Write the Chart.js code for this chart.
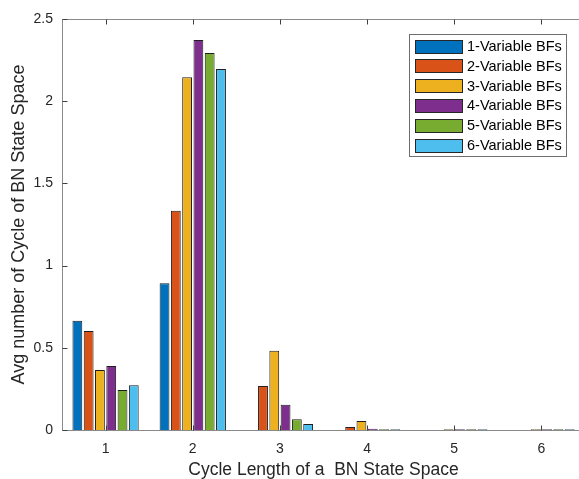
<!DOCTYPE html>
<html>
<head>
<meta charset="utf-8">
<script src="https://cdn.jsdelivr.net/npm/chart.js@4"></script>
<style>
  html, body { margin: 0; padding: 0; background: #ffffff; overflow: hidden; }
  #wrap { width: 579px; height: 479px; overflow: hidden; position: relative; }
  canvas { display: block; }
</style>
</head>
<body>
<div id="wrap"><canvas id="c" width="586" height="479"></canvas></div>
<script>
// ---- data ----
const categories = ['1', '2', '3', '4', '5', '6'];
const seriesNames = ['1-Variable BFs', '2-Variable BFs', '3-Variable BFs', '4-Variable BFs', '5-Variable BFs', '6-Variable BFs'];
const var1 = [0.665, 0.892, 0, 0, 0, 0];
const var2 = [0.602, 1.334, 0.268, 0.018, 0, 0];
const var3 = [0.365, 2.145, 0.482, 0.055, 0.004, 0.004];
const var4 = [0.389, 2.372, 0.154, 0.008, 0.004, 0.004];
const var5 = [0.243, 2.293, 0.065, 0.004, 0.004, 0.004];
const var6 = [0.272, 2.196, 0.036, 0.004, 0.004, 0.004];
const yTickValues = [0, 0.5, 1, 1.5, 2, 2.5];
const xTitle = 'Cycle Length of a  BN State Space';
const yTitle = 'Avg number of Cycle of BN State Space';

const colors = ['#0072BD', '#D95319', '#EDB120', '#7E2F8E', '#77AC30', '#4DBEEE'];
const seriesValues = [var1, var2, var3, var4, var5, var6];
const FONT = "'Liberation Sans', Arial, sans-serif";
const TEXT = '#262626';

const datasets = seriesValues.map((vals, i) => ({
  label: seriesNames[i],
  data: vals,
  backgroundColor: colors[i],
  borderColor: '#1e1e1e',
  borderWidth: 1,
  categoryPercentage: 0.777,
  barPercentage: 0.87
}));

const boxPlugin = {
  id: 'matlabBox',
  afterDatasetsDraw(chart) {
    const ctx = chart.ctx;
    const a = chart.chartArea;
    const xs = chart.scales.x, ys = chart.scales.y;
    const L = Math.round(a.left) + 0.5, R = Math.round(a.right) - 0.5;
    const T = Math.round(a.top) + 0.5, B = Math.round(a.bottom) + 0.5;
    ctx.save();
    ctx.lineWidth = 1;
    ctx.strokeStyle = '#8a8a8a';
    ctx.strokeRect(L, T, R - L, B - T);
    ctx.strokeStyle = '#404040';
    const tl = 5;
    ctx.beginPath();
    yTickValues.forEach(v => {
      const y = Math.round(ys.getPixelForValue(v)) + 0.5;
      ctx.moveTo(L, y); ctx.lineTo(L + tl, y);
      ctx.moveTo(R, y); ctx.lineTo(R - tl, y);
    });
    categories.forEach((c, i) => {
      const x = Math.round(xs.getPixelForValue(i)) + 0.5;
      ctx.moveTo(x, B); ctx.lineTo(x, B - tl);
      ctx.moveTo(x, T); ctx.lineTo(x, T + tl);
    });
    ctx.stroke();

    // legend
    const lx = 409.5, ly = 34.5, lw = 157, lh = 122;
    ctx.fillStyle = '#ffffff';
    ctx.fillRect(lx, ly, lw, lh);
    ctx.strokeStyle = '#6e6e6e';
    ctx.strokeRect(lx, ly, lw, lh);
    ctx.font = '14.5px ' + FONT;
    ctx.textBaseline = 'middle';
    ctx.textAlign = 'left';
    chart.data.datasets.forEach((ds, i) => {
      const cy = 46.5 + i * 19.8;
      ctx.fillStyle = ds.backgroundColor;
      ctx.fillRect(415, Math.round(cy - 7), 48, 14);
      ctx.strokeStyle = '#262626';
      ctx.strokeRect(415.5, Math.round(cy - 7) + 0.5, 47, 13);
      ctx.fillStyle = '#000000';
      ctx.fillText(ds.label, 467, cy + 0.5);
    });
    ctx.restore();
  }
};

new Chart(document.getElementById('c'), {
  type: 'bar',
  data: { labels: categories, datasets },
  options: {
    responsive: false,
    animation: false,
    devicePixelRatio: 1,
    layout: { padding: { left: 0, right: 1, top: 19, bottom: 0 } },
    plugins: { legend: { display: false }, tooltip: { enabled: false } },
    scales: {
      x: {
        grid: { display: false, drawTicks: false },
        border: { display: false },
        ticks: { color: TEXT, font: { family: FONT, size: 14 }, padding: 11, maxRotation: 0 },
        title: { display: true, text: xTitle, color: TEXT, font: { family: FONT, size: 17.5, lineHeight: 1 }, padding: 0 },
        afterFit(s) { s.height = 49; }
      },
      y: {
        min: 0, max: 2.5,
        afterBuildTicks(s) { s.ticks = yTickValues.map(v => ({ value: v })); },
        grid: { display: false, drawTicks: false },
        border: { display: false },
        ticks: {
          color: TEXT, font: { family: FONT, size: 14 }, padding: 9,
          callback: v => String(Number(v))
        },
        title: { display: true, text: yTitle, color: TEXT, font: { family: FONT, size: 18, lineHeight: 1 }, padding: { top: 10, bottom: 0 } },
        afterFit(s) { s.width = 62; }
      }
    }
  },
  plugins: [boxPlugin]
});
</script>
</body>
</html>
